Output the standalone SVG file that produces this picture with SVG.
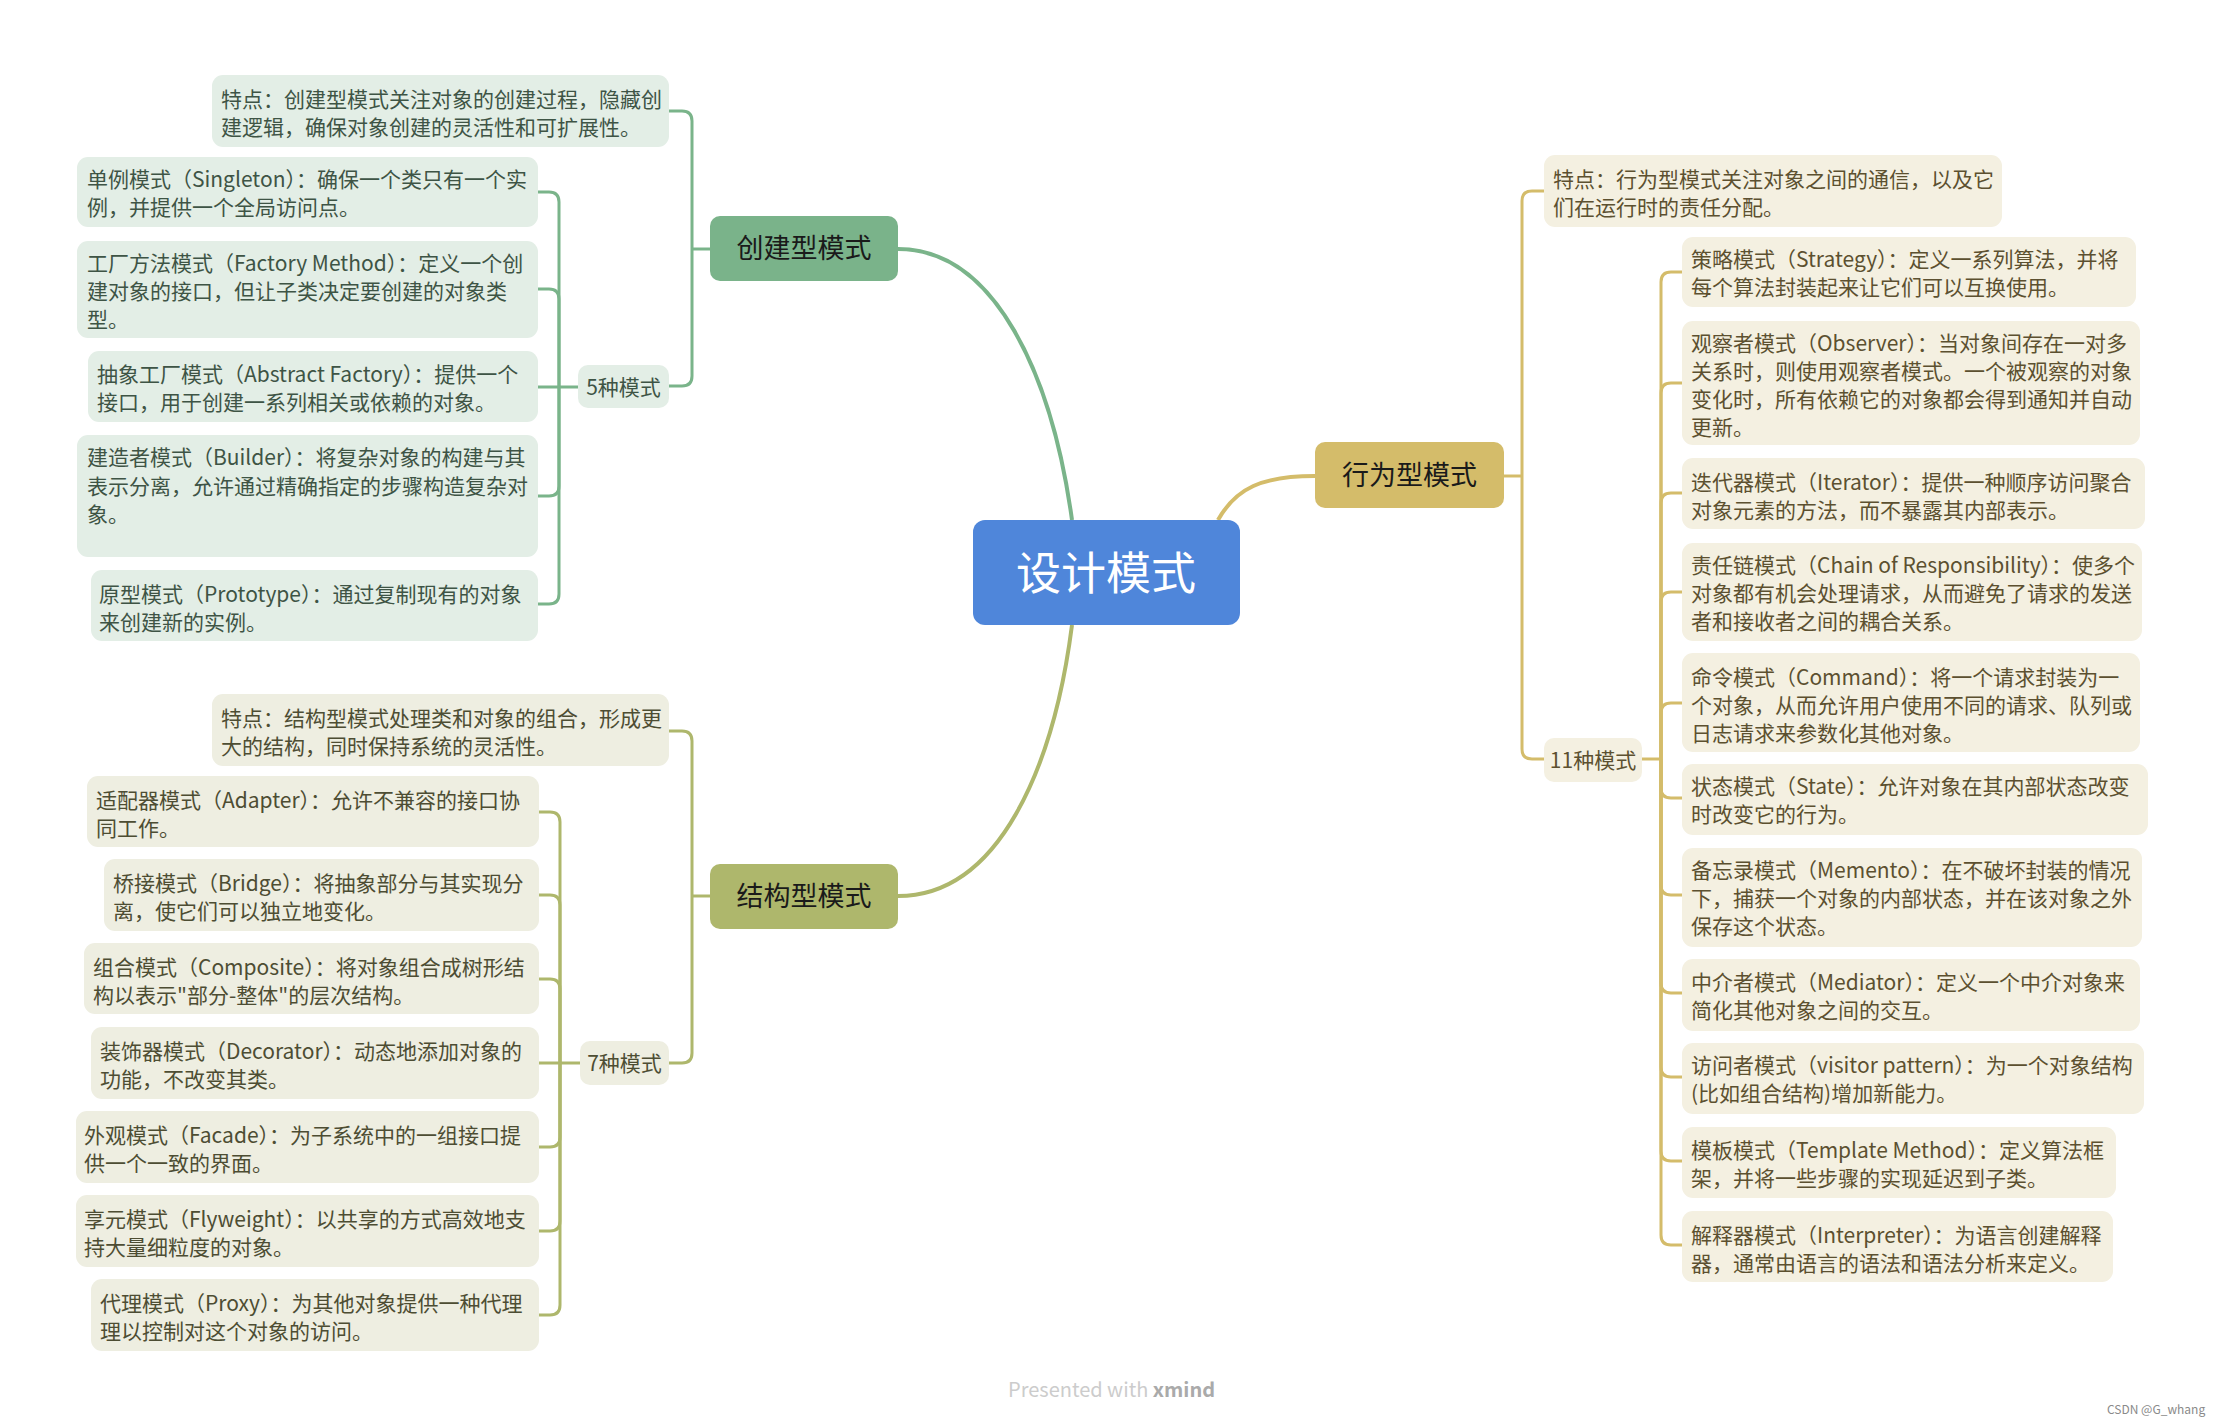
<svg xmlns="http://www.w3.org/2000/svg" width="2223" height="1426" viewBox="0 0 2223 1426">
<style>
text{font-family:"Noto Sans CJK SC","Noto Sans",sans-serif;}
.t{font-size:21px;}
.cg{fill:#E3EEE6;} .tg{fill:#3E5445;}
.co{fill:#EEEEE1;} .to{fill:#4D4D33;}
.cy{fill:#F4F0E1;} .ty{fill:#5C5030;}
.br{font-size:27px;fill:#1a1a1a;text-anchor:middle;}
.mid{text-anchor:middle;}
.lg{stroke:#7AB48A;fill:none;stroke-width:3;}
.lo{stroke:#AEB76C;fill:none;stroke-width:3;}
.ly{stroke:#D4BC6A;fill:none;stroke-width:3;}
.main{stroke-width:4;}
</style>
<rect width="2223" height="1426" fill="#ffffff"/>
<g id="connectors">
<path class="lg main" d="M898,249 C995,249 1052,375 1072,520"/>
<path class="lo main" d="M898,896 C1000,896 1054,765 1072,625"/>
<path class="ly main" d="M1218,520 C1236,488 1262,476 1315,476"/>
<path class="lg" d="M710,249 H692"/>
<path class="lg" d="M692,249 V121 Q692,111 682,111 H669"/>
<path class="lg" d="M692,249 V376 Q692,386 682,386 H669"/>
<path class="lg" d="M578,387 H538"/>
<path class="lg" d="M559,387 V202 Q559,192 549,192 H538"/>
<path class="lg" d="M559,387 V299 Q559,289 549,289 H538"/>
<path class="lg" d="M559,387 V486 Q559,496 549,496 H538"/>
<path class="lg" d="M559,387 V594 Q559,604 549,604 H538"/>
<path class="lo" d="M710,896 H692"/>
<path class="lo" d="M692,896 V741 Q692,731 682,731 H669"/>
<path class="lo" d="M692,896 V1053 Q692,1063 682,1063 H669"/>
<path class="lo" d="M580,1063 H539"/>
<path class="lo" d="M560,1063 V822 Q560,812 550,812 H539"/>
<path class="lo" d="M560,1063 V905 Q560,895 550,895 H539"/>
<path class="lo" d="M560,1063 V989 Q560,979 550,979 H539"/>
<path class="lo" d="M560,1063 V1137 Q560,1147 550,1147 H539"/>
<path class="lo" d="M560,1063 V1221 Q560,1231 550,1231 H539"/>
<path class="lo" d="M560,1063 V1305 Q560,1315 550,1315 H539"/>
<path class="ly" d="M1504,476 H1522"/>
<path class="ly" d="M1522,476 V201 Q1522,191 1532,191 H1544"/>
<path class="ly" d="M1522,476 V749 Q1522,759 1532,759 H1544"/>
<path class="ly" d="M1642,759 H1661"/>
<path class="ly" d="M1661,759 V282 Q1661,272 1671,272 H1682"/>
<path class="ly" d="M1661,759 V393 Q1661,383 1671,383 H1682"/>
<path class="ly" d="M1661,759 V503 Q1661,493 1671,493 H1682"/>
<path class="ly" d="M1661,759 V602 Q1661,592 1671,592 H1682"/>
<path class="ly" d="M1661,759 V713 Q1661,703 1671,703 H1682"/>
<path class="ly" d="M1661,759 V788 Q1661,798 1671,798 H1682"/>
<path class="ly" d="M1661,759 V885 Q1661,895 1671,895 H1682"/>
<path class="ly" d="M1661,759 V983 Q1661,993 1671,993 H1682"/>
<path class="ly" d="M1661,759 V1067 Q1661,1077 1671,1077 H1682"/>
<path class="ly" d="M1661,759 V1151 Q1661,1161 1671,1161 H1682"/>
<path class="ly" d="M1661,759 V1235 Q1661,1245 1671,1245 H1682"/>
</g>

<g id="root">
<rect x="973" y="520" width="267" height="105" rx="12" fill="#4F86DA"/>
<text x="1106" y="590" class="mid" font-size="45" fill="#ffffff">设计模式</text>
</g>

<g id="creational">
<rect x="710" y="216" width="188" height="65" rx="10" fill="#7AB38A"/>
<text x="804" y="258" class="br">创建型模式</text>
</g>
<g id="cr-feature">
<rect x="212" y="75" width="457" height="72" rx="11" class="cg"/>
<text class="t tg" x="221" y="107">特点：创建型模式关注对象的创建过程，隐藏创</text>
<text class="t tg" x="221" y="135">建逻辑，确保对象创建的灵活性和可扩展性。</text>
</g>
<g id="cr-count">
<rect x="578" y="365" width="91" height="43" rx="10" class="cg"/>
<text class="t tg mid" x="623.5" y="395">5种模式</text>
</g>
<g id="singleton">
<rect x="77" y="157" width="461" height="70" rx="11" class="cg"/>
<text class="t tg" x="87" y="187">单例模式（Singleton）：确保一个类只有一个实</text>
<text class="t tg" x="87" y="215">例，并提供一个全局访问点。</text>
</g>
<g id="factory-method">
<rect x="77" y="241" width="461" height="97" rx="11" class="cg"/>
<text class="t tg" x="87" y="271">工厂方法模式（Factory Method）：定义一个创</text>
<text class="t tg" x="87" y="299">建对象的接口，但让子类决定要创建的对象类</text>
<text class="t tg" x="87" y="327">型。</text>
</g>
<g id="abstract-factory">
<rect x="88" y="351" width="450" height="71" rx="11" class="cg"/>
<text class="t tg" x="97" y="382">抽象工厂模式（Abstract Factory）：提供一个</text>
<text class="t tg" x="97" y="410">接口，用于创建一系列相关或依赖的对象。</text>
</g>
<g id="builder">
<rect x="77" y="435" width="461" height="122" rx="11" class="cg"/>
<text class="t tg" x="87" y="465">建造者模式（Builder）：将复杂对象的构建与其</text>
<text class="t tg" x="87" y="494">表示分离，允许通过精确指定的步骤构造复杂对</text>
<text class="t tg" x="87" y="522">象。</text>
</g>
<g id="prototype">
<rect x="91" y="570" width="447" height="71" rx="11" class="cg"/>
<text class="t tg" x="99" y="602">原型模式（Prototype）：通过复制现有的对象</text>
<text class="t tg" x="99" y="630">来创建新的实例。</text>
</g>

<g id="structural">
<rect x="710" y="864" width="188" height="65" rx="10" fill="#AEB76C"/>
<text x="804" y="906" class="br">结构型模式</text>
</g>
<g id="st-feature">
<rect x="212" y="694" width="457" height="72" rx="11" class="co"/>
<text class="t to" x="221" y="726">特点：结构型模式处理类和对象的组合，形成更</text>
<text class="t to" x="221" y="754">大的结构，同时保持系统的灵活性。</text>
</g>
<g id="st-count">
<rect x="580" y="1041" width="89" height="44" rx="10" class="co"/>
<text class="t to mid" x="624.5" y="1071">7种模式</text>
</g>
<g id="adapter">
<rect x="87" y="776" width="452" height="71" rx="11" class="co"/>
<text class="t to" x="96" y="808">适配器模式（Adapter）：允许不兼容的接口协</text>
<text class="t to" x="96" y="836">同工作。</text>
</g>
<g id="bridge">
<rect x="104" y="859" width="435" height="72" rx="11" class="co"/>
<text class="t to" x="113" y="891">桥接模式（Bridge）：将抽象部分与其实现分</text>
<text class="t to" x="113" y="919">离，使它们可以独立地变化。</text>
</g>
<g id="composite">
<rect x="84" y="943" width="455" height="71" rx="11" class="co"/>
<text class="t to" x="93" y="975">组合模式（Composite）：将对象组合成树形结</text>
<text class="t to" x="93" y="1003">构以表示"部分-整体"的层次结构。</text>
</g>
<g id="decorator">
<rect x="91" y="1027" width="448" height="72" rx="11" class="co"/>
<text class="t to" x="100" y="1059">装饰器模式（Decorator）：动态地添加对象的</text>
<text class="t to" x="100" y="1087">功能，不改变其类。</text>
</g>
<g id="facade">
<rect x="76" y="1111" width="463" height="72" rx="11" class="co"/>
<text class="t to" x="84" y="1143">外观模式（Facade）：为子系统中的一组接口提</text>
<text class="t to" x="84" y="1171">供一个一致的界面。</text>
</g>
<g id="flyweight">
<rect x="76" y="1195" width="463" height="72" rx="11" class="co"/>
<text class="t to" x="84" y="1227">享元模式（Flyweight）：以共享的方式高效地支</text>
<text class="t to" x="84" y="1255">持大量细粒度的对象。</text>
</g>
<g id="proxy">
<rect x="91" y="1279" width="448" height="72" rx="11" class="co"/>
<text class="t to" x="100" y="1311">代理模式（Proxy）：为其他对象提供一种代理</text>
<text class="t to" x="100" y="1339">理以控制对这个对象的访问。</text>
</g>

<g id="behavioral">
<rect x="1315" y="442" width="189" height="66" rx="10" fill="#D4BC6A"/>
<text x="1409.5" y="485" class="br">行为型模式</text>
</g>
<g id="bh-feature">
<rect x="1544" y="155" width="458" height="72" rx="11" class="cy"/>
<text class="t ty" x="1553" y="187">特点：行为型模式关注对象之间的通信，以及它</text>
<text class="t ty" x="1553" y="215">们在运行时的责任分配。</text>
</g>
<g id="bh-count">
<rect x="1544" y="738" width="98" height="44" rx="10" class="cy"/>
<text class="t ty mid" x="1593" y="768">11种模式</text>
</g>
<g id="strategy">
<rect x="1682" y="237" width="454" height="70" rx="11" class="cy"/>
<text class="t ty" x="1691" y="267">策略模式（Strategy）：定义一系列算法，并将</text>
<text class="t ty" x="1691" y="295">每个算法封装起来让它们可以互换使用。</text>
</g>
<g id="observer">
<rect x="1682" y="321" width="458" height="124" rx="11" class="cy"/>
<text class="t ty" x="1691" y="351">观察者模式（Observer）：当对象间存在一对多</text>
<text class="t ty" x="1691" y="379">关系时，则使用观察者模式。一个被观察的对象</text>
<text class="t ty" x="1691" y="407">变化时，所有依赖它的对象都会得到通知并自动</text>
<text class="t ty" x="1691" y="435">更新。</text>
</g>
<g id="iterator">
<rect x="1682" y="458" width="463" height="71" rx="11" class="cy"/>
<text class="t ty" x="1691" y="490">迭代器模式（Iterator）：提供一种顺序访问聚合</text>
<text class="t ty" x="1691" y="518">对象元素的方法，而不暴露其内部表示。</text>
</g>
<g id="chain">
<rect x="1682" y="543" width="460" height="98" rx="11" class="cy"/>
<text class="t ty" x="1691" y="573">责任链模式（Chain of Responsibility）：使多个</text>
<text class="t ty" x="1691" y="601">对象都有机会处理请求，从而避免了请求的发送</text>
<text class="t ty" x="1691" y="629">者和接收者之间的耦合关系。</text>
</g>
<g id="command">
<rect x="1682" y="653" width="458" height="99" rx="11" class="cy"/>
<text class="t ty" x="1691" y="685">命令模式（Command）：将一个请求封装为一</text>
<text class="t ty" x="1691" y="713">个对象，从而允许用户使用不同的请求、队列或</text>
<text class="t ty" x="1691" y="741">日志请求来参数化其他对象。</text>
</g>
<g id="state">
<rect x="1682" y="764" width="466" height="71" rx="11" class="cy"/>
<text class="t ty" x="1691" y="794">状态模式（State）：允许对象在其内部状态改变</text>
<text class="t ty" x="1691" y="822">时改变它的行为。</text>
</g>
<g id="memento">
<rect x="1682" y="848" width="460" height="99" rx="11" class="cy"/>
<text class="t ty" x="1691" y="878">备忘录模式（Memento）：在不破坏封装的情况</text>
<text class="t ty" x="1691" y="906">下，捕获一个对象的内部状态，并在该对象之外</text>
<text class="t ty" x="1691" y="934">保存这个状态。</text>
</g>
<g id="mediator">
<rect x="1682" y="959" width="458" height="72" rx="11" class="cy"/>
<text class="t ty" x="1691" y="990">中介者模式（Mediator）：定义一个中介对象来</text>
<text class="t ty" x="1691" y="1018">简化其他对象之间的交互。</text>
</g>
<g id="visitor">
<rect x="1682" y="1043" width="462" height="71" rx="11" class="cy"/>
<text class="t ty" x="1691" y="1073">访问者模式（visitor pattern）：为一个对象结构</text>
<text class="t ty" x="1691" y="1101">(比如组合结构)增加新能力。</text>
</g>
<g id="template">
<rect x="1682" y="1127" width="434" height="71" rx="11" class="cy"/>
<text class="t ty" x="1691" y="1158">模板模式（Template Method）：定义算法框</text>
<text class="t ty" x="1691" y="1186">架，并将一些步骤的实现延迟到子类。</text>
</g>
<g id="interpreter">
<rect x="1682" y="1211" width="431" height="71" rx="11" class="cy"/>
<text class="t ty" x="1691" y="1243">解释器模式（Interpreter）：为语言创建解释</text>
<text class="t ty" x="1691" y="1271">器，通常由语言的语法和语法分析来定义。</text>
</g>

<g id="footer">
<text x="1008" y="1397" font-family="Liberation Sans, sans-serif" font-size="20" fill="#cccccc">Presented with <tspan font-weight="bold" fill="#aaaaaa">xmind</tspan></text>
<text x="2107" y="1414" font-family="Liberation Sans, sans-serif" font-size="12" fill="#8a8a8a">CSDN @G_whang</text>
</g>
</svg>
